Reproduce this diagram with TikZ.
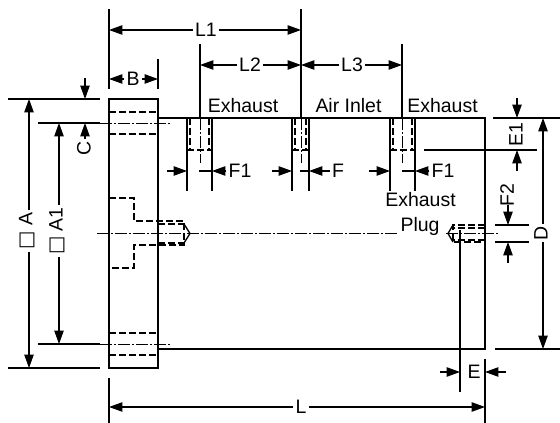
\documentclass[tikz,border=0pt]{standalone}
\usepackage{fontspec}
\setmainfont{Liberation Sans}
\newfontfamily\symfont{DejaVu Sans}
\usetikzlibrary{arrows.meta,calc}
\tikzset{
  body/.style={line width=1pt},
  ext/.style={line width=1.35pt},
  dim/.style={line width=.85pt,-{Triangle[length=10pt,width=7pt]}},
  hidden/.style={line width=.95pt,dash pattern=on 5.5pt off 2pt},
  centerline/.style={line width=.7pt,dash pattern=on 9pt off 1.5pt on 1.5pt off 1.5pt},
  lbl/.style={inner sep=1.5pt,font=\fontsize{14.6}{16}\selectfont},
  vlbl/.style={lbl,rotate=90},
}
\begin{document}
\begin{tikzpicture}[x=.75pt,y=-.75pt]
    \useasboundingbox (0,0) rectangle (560,423);
    \draw[body] (109,99) rectangle (158,368);
    \draw[body] (158,118) -- (485,118) -- (485,349) -- (158,349);
    \foreach \ya in {112,134,333,355} {
      \draw[hidden] (109,\ya) -- (158,\ya);
    }
    \foreach \ya in {123,344} {
      \draw[ext] (38,\ya) -- (100,\ya);
      \draw[centerline] (100,\ya) -- (172,\ya);
    }
    \draw[ext] (8,99) -- (100,99);
    \draw[ext] (8,368) -- (100,368);
    \draw[hidden] (109,198) -- (134,198) -- (134,221) -- (184,221) -- (184,245) -- (134,245) -- (134,268) -- (109,268);
    \draw[hidden] (158,224) -- (184,224);
    \draw[hidden] (158,243) -- (184,243);
    \draw[body] (184,224) -- (190,233.5) -- (184,243);
    \draw[hidden] (485,225) -- (453,225) -- (453,242) -- (485,242);
    \draw[hidden] (485,228) -- (453,228);
    \draw[hidden] (485,240) -- (453,240);
    \draw[body] (453,225) -- (448,233.5) -- (453,242);
    \draw[centerline] (97,233.5) -- (398,233.5);
    \draw[centerline] (446,233.5) -- (498,233.5);
    \foreach \pl/\pr/\pc in {187/212/200,292/309/301,390/415/402} {
      \draw[ext] (\pl,118) -- (\pl,191);
      \draw[ext] (\pr,118) -- (\pr,191);
      \draw[hidden] ({\pl+3},118) -- ({\pl+3},150);
      \draw[hidden] ({\pr-3},118) -- ({\pr-3},150);
      \draw[hidden] (\pl,150) -- (\pr,150);
      \draw[centerline] (\pc,118) -- (\pc,163);
    }
    \draw[ext] (109,9) -- (109,89);
    \draw[ext] (158,59) -- (158,89);
    \draw[ext] (200,44) -- (200,118);
    \draw[ext] (301,9) -- (301,118);
    \draw[ext] (402,44) -- (402,118);
    \node[lbl] (lblLone) at (206,30) {L1};
    \draw[dim] (lblLone) -- (109,30);
    \draw[dim] (lblLone) -- (301,30);
    \node[lbl] (lblLtwo) at (250,65) {L2};
    \draw[dim] (lblLtwo) -- (200,65);
    \draw[dim] (lblLtwo) -- (301,65);
    \node[lbl] (lblLthree) at (352,65) {L3};
    \draw[dim] (lblLthree) -- (301,65);
    \draw[dim] (lblLthree) -- (402,65);
    \node[lbl] (lblB) at (133,79) {B};
    \draw[dim] (lblB) -- (109,79);
    \draw[dim] (lblB) -- (158,79);
    \node[lbl] at (243,105.5) (exhaustA) {Exhaust};
    \node[lbl] at (348.5,105.5) (airInlet) {Air Inlet};
    \node[lbl] at (442.5,105.5) (exhaustB) {Exhaust};
    \node[lbl] at (420.5,200) (exhaustPlug) {Exhaust};
    \node[lbl] at (420,226) (plug) {Plug};
    \coordinate (Atop) at (29,99);
    \coordinate (Abot) at (29,368);
    \coordinate (Aonetop) at (59,123);
    \coordinate (Aonebot) at (59,344);
    \node[vlbl] (lblA) at (27,231) {{\symfont □} A};
    \draw[dim] (lblA.east -| Atop) -- (Atop);
    \draw[dim] (lblA.west -| Abot) -- (Abot);
    \node[vlbl] (lblAone) at (57,231) {{\symfont □} A1};
    \draw[dim] (lblAone.east -| Aonetop) -- (Aonetop);
    \draw[dim] (lblAone.west -| Aonebot) -- (Aonebot);
    \node[vlbl] (lblC) at (84,148) {C};
    \draw[dim] (85,78) -- (85,99);
    \draw[dim] (lblC.east -| 85,0) -- (85,123);
    \foreach \pl/\pr/\pt/\pe/\lx/\txt in {187/212/199/167/240/F1,292/309/300/272/338/F,390/415/402/369/443/F1} {
      \node[lbl] (lbl\pl) at (\lx,171) {\txt};
      \draw[dim] (lbl\pl) -- (\pr,171);
      \draw[ext] (\pt,171) -- (\pr,171);
      \draw[dim] (\pe,171) -- (\pl,171);
    }
    \draw[ext] (493,118) -- (560,118);
    \draw[ext] (424,150) -- (537,150);
    \draw[ext] (495,349) -- (560,349);
    \draw[ext] (495,225) -- (529,225);
    \draw[ext] (495,242) -- (529,242);
    \node[vlbl] (lblEone) at (516,135) {E1};
    \draw[dim] (517,98) -- (517,118);
    \draw[dim] (517,171) -- (517,150);
    \node[vlbl] (lblFtwo) at (507,195) {F2};
    \draw[dim] (508,205) -- (508,225);
    \draw[dim] (508,263) -- (508,242);
    \node[vlbl] (lblD) at (541,233) {D};
    \draw[dim] (lblD.east -| 543,0) -- (543,118);
    \draw[dim] (lblD.west -| 543,0) -- (543,349);
    \draw[ext] (460,230) -- (460,392);
    \draw[ext] (485,359) -- (485,423);
    \draw[ext] (109,378) -- (109,423);
    \node[lbl] (lblE) at (474,372) {E};
    \draw[dim] (440,372) -- (460,372);
    \draw[dim] (506,372) -- (485,372);
    \node[lbl] (lblL) at (301,407) {L};
    \draw[dim] (lblL) -- (109,407);
    \draw[dim] (lblL) -- (485,407);
  \end{tikzpicture}
\end{document}
